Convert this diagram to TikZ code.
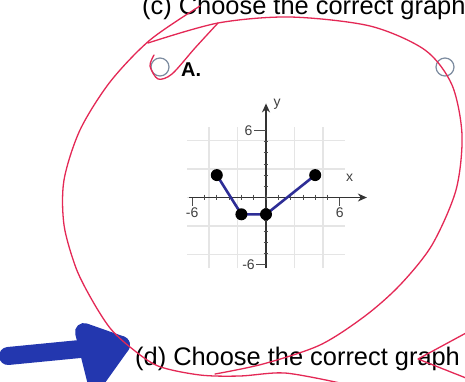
\documentclass[tikz,border=0pt]{standalone}
\usepackage{fontspec}
\setmainfont{Liberation Sans}
\usepackage{xcolor}
\usepackage{tikz}
\usetikzlibrary{arrows.meta, positioning}
\definecolor{penred}{RGB}{228,40,85}
\definecolor{markerblue}{RGB}{35,55,175}
\definecolor{plotblue}{RGB}{45,45,150}
\definecolor{optgray}{RGB}{125,140,160}
\tikzset{
  prompt/.style={anchor=base west, inner sep=0pt, font=\fontsize{25.4}{30}\selectfont},
  optcircle/.style={circle, draw=optgray, line width=1.2pt, minimum size=18pt, inner sep=0pt},
  gridline/.style={gray!20, line width=1.4pt},
  axisline/.style={-{Stealth[length=9pt,width=8pt]}, line width=1.3pt, black!80},
  tickmark/.style={line width=0.8pt, black!70},
  ticklabel/.style={font=\fontsize{14}{16}\selectfont, text=black!75, inner sep=1pt},
  graphline/.style={plotblue, line width=2.6pt},
  plotdot/.style={circle, fill=black, inner sep=0pt, minimum size=12pt},
  redpen/.style={penred, line width=1.3pt, line cap=round, line join=round},
  markerstroke/.style={markerblue, line width=18pt, line cap=round, line join=round}
}

\begin{document}
\begin{tikzpicture}[x=1pt, y=-1pt]
  \clip (0,0) rectangle (465,381);
  \fill[white] (0,0) rectangle (465,381);

  % Question prompts
  \node[prompt] (qc) at (142,14) {(c) Choose the correct graph};
  \node[prompt] (qd) at (135,365) {(d) Choose the correct graph};

  % Answer options
  \node[optcircle] (optA) at (160,67) {};
  \node[optcircle] (optB) at (445,67) {};
  \node[anchor=base west, inner sep=0pt, font=\fontsize{20}{22}\selectfont\bfseries] (labA) at (181,76) {A.};

  % Graph of option A
  \begin{scope}[shift={(266,197.5)}, x=12.3pt, y=11.2pt]
    \draw[gridline] (-6.4,-6.3) grid (6.4,6.3);

    % Draw axes
    \coordinate (xstart) at (-6.3,0);
    \coordinate (xend) at (8.2,0);
    \coordinate (ystart) at (0,-6.3);
    \coordinate (yend) at (0,8.4);
    \draw[axisline] (xstart) -- (xend);
    \draw[axisline] (ystart) -- (yend);
    \node[ticklabel] (xlab) at (6.8,1.8) {x};
    \node[ticklabel] (ylab) at (0.9,8.3) {y};

    % Draw ticks
    \foreach \t in {-5,...,5} {
      \draw[tickmark] (\t,0.25) -- (\t,-0.25);
      \draw[tickmark] (-0.2,\t) -- (0.2,\t);
    }
    \draw[tickmark] (-6,0) -- (-6,-0.8) node[ticklabel, below] (xmin) {-6};
    \draw[tickmark] (6,0) -- (6,-0.8) node[ticklabel, below] (xmax) {6};
    \draw[tickmark] (0,6) -- (-1,6) node[ticklabel, left] (ymax) {6};
    \draw[tickmark] (0,-6) -- (-0.8,-6) node[ticklabel, left] (ymin) {-6};

    % Draw the piecewise line
    \coordinate (p1) at (-4,2);
    \coordinate (p2) at (-2,-1.5);
    \coordinate (p3) at (0,-1.5);
    \coordinate (p4) at (4,2);
    \draw[graphline] (p1) -- (p2) -- (p3) -- (p4);
    \foreach \p in {p1,p2,p3,p4}
      \node[plotdot] (dot\p) at (\p) {};
  \end{scope}

  % Blue marker arrow
  \coordinate (tail) at (8,356);
  \coordinate (tip) at (121,345);
  \coordinate (barbup) at (84,332);
  \coordinate (barbdown) at (96,380);
  \draw[markerstroke] (tail) -- (tip);
  \draw[markerstroke, fill=markerblue] (barbup) -- (tip) -- (barbdown) -- cycle;

  % Red pen strokes
  \draw[redpen] plot[smooth] coordinates {(154,55) (150,66) (158,79) (172,74) (195,48) (218,23)};
  \draw[redpen] plot[smooth] coordinates {(148,43) (218,23) (290,17) (370,26) (425,50) (452,85)
    (462,135) (456,190) (432,245) (400,285) (365,316) (320,345) (263,364) (215,374)};
  \draw[redpen] plot[smooth] coordinates {(200,6) (150,40) (110,82) (80,130) (64,180) (64,225)
    (76,268) (92,300) (110,328) (130,347) (158,366) (200,375) (240,376) (285,373) (340,383)};
  \draw[redpen] (466,333) -- (418,359) -- (466,378);
\end{tikzpicture}
\end{document}
